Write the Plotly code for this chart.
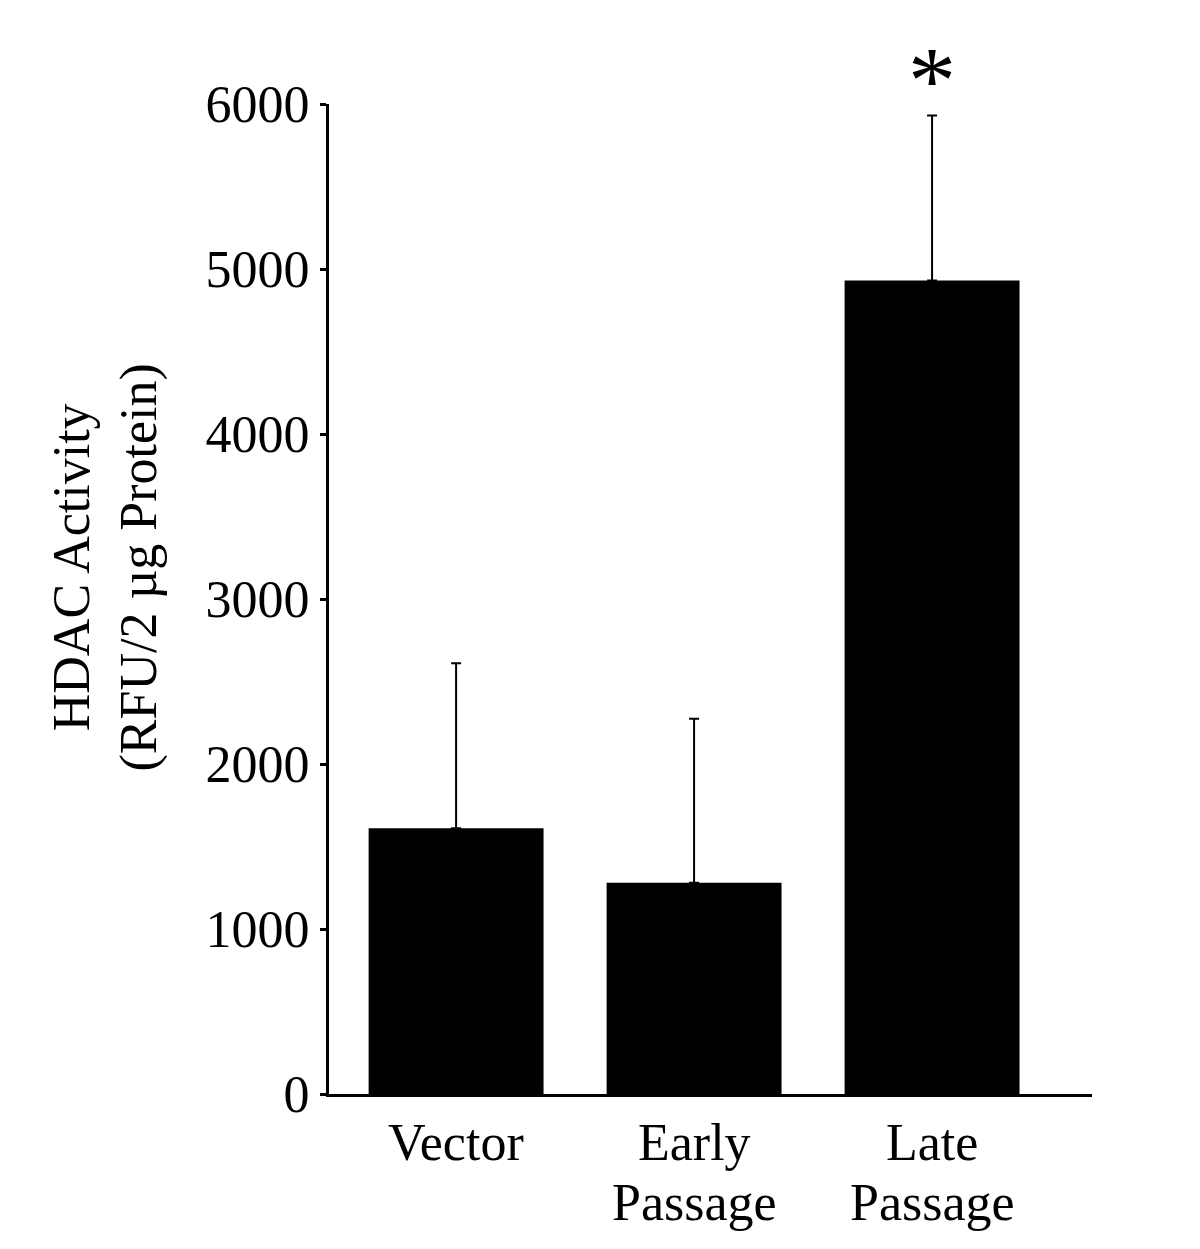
import plotly.graph_objects as go

# data
categories = ["Vector", "Early Passage", "Late Passage"]
label_lines = [["Vector"], ["Early", "Passage"], ["Late", "Passage"]]
activity = [1610, 1280, 4930]
activity_err = [1000, 995, 1000]
y_ticks = [0, 1000, 2000, 3000, 4000, 5000, 6000]

FONT = "Liberation Serif, Times New Roman, serif"

fig = go.Figure(
    go.Bar(
        x=[0, 1, 2],
        y=activity,
        width=0.735,
        hovertext=categories,
        marker=dict(color="black", line=dict(width=0)),
        error_y=dict(
            type="data",
            symmetric=False,
            array=activity_err,
            arrayminus=[0, 0, 0],
            color="black",
            thickness=2,
            width=5,
        ),
    )
)

# category labels, one annotation per line so the line gap matches
for i, lines in enumerate(label_lines):
    for k, line in enumerate(lines):
        fig.add_annotation(
            x=i, xref="x", y=0, yref="paper",
            text=line, showarrow=False,
            font=dict(family=FONT, size=52, color="black"),
            yanchor="top", yshift=-18 - 60 * k,
        )

# significance star above Late Passage
fig.add_annotation(
    x=2, y=activity[2] + activity_err[2],
    text="*", showarrow=False,
    font=dict(family=FONT, size=96, color="black"),
    yanchor="bottom", yshift=-20,
)

# y axis title (two lines, rotated)
fig.add_annotation(
    xref="paper", yref="paper",
    x=-0.292, y=0.532,
    text="HDAC Activity<br>(RFU/2 µg Protein)",
    textangle=-90, showarrow=False,
    font=dict(family=FONT, size=52, color="black"),
    xanchor="center", yanchor="middle",
)

fig.update_layout(
    width=1200, height=1249,
    margin=dict(l=321, r=116, t=96, b=163),
    plot_bgcolor="white", paper_bgcolor="white",
    showlegend=False,
    font=dict(family=FONT, size=52, color="black"),
)
fig.update_xaxes(
    range=[-0.534, 2.672],
    showticklabels=False,
    showline=True, linecolor="black", linewidth=3,
    ticks="", showgrid=False, zeroline=False,
)
fig.update_yaxes(
    range=[0, 6000],
    tickvals=y_ticks,
    showline=True, linecolor="black", linewidth=3,
    ticks="outside", ticklen=6, tickwidth=3, tickcolor="black",
    showgrid=False, zeroline=False,
)

fig.write_html("out.html")
